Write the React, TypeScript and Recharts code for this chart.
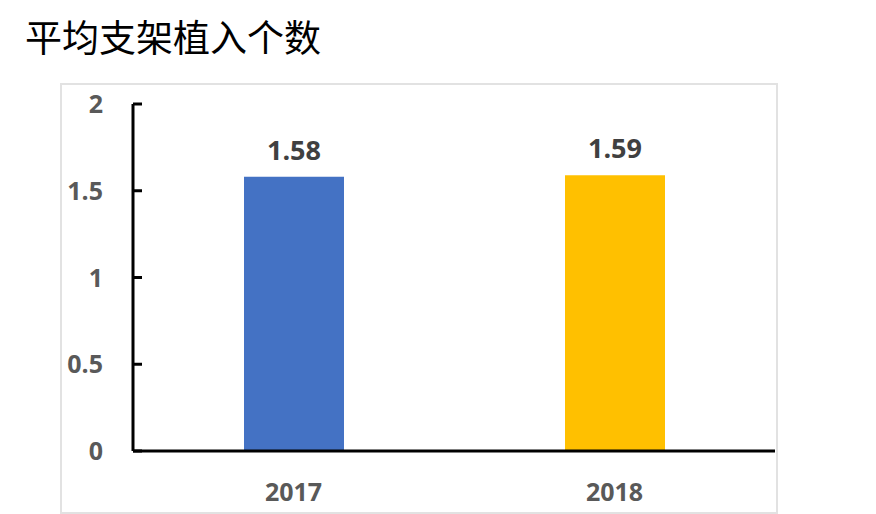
import React from "react";
import { BarChart, Bar, XAxis, YAxis, Cell, LabelList } from "recharts";

const categories = ["2017", "2018"];
const values = [1.58, 1.59];
const barColors = ["#4472C4", "#FFC000"];
const yTicks = [0, 0.5, 1, 1.5, 2];

const data = categories.map((c, i) => ({ year: c, value: values[i] }));

const FONT = "'Open Sans', 'Noto Sans', sans-serif";

const YTick = (props: any) => {
  const { x, y, payload } = props;
  return (
    <g>
      <line x1={x} x2={x + 9} y1={y} y2={y} stroke="#000" strokeWidth={3} />
      <text
        x={x - 30}
        y={y}
        dy="0.36em"
        textAnchor="end"
        fill="#595959"
        fontSize={25}
        fontWeight={700}
        fontFamily={FONT}
      >
        {payload.value}
      </text>
    </g>
  );
};

const XTick = (props: any) => {
  const { x, y, payload } = props;
  return (
    <text
      x={x}
      y={y + 41}
      dy="0.36em"
      textAnchor="middle"
      fill="#595959"
      fontSize={25}
      fontWeight={700}
      fontFamily={FONT}
    >
      {payload.value}
    </text>
  );
};

export default function App() {
  return (
    <div
      style={{
        position: "absolute",
        left: 0,
        top: 0,
        width: 876,
        height: 514,
        background: "#fff",
        overflow: "hidden",
      }}
    >
      <div
        style={{
          position: "absolute",
          left: 25,
          top: 13,
          fontSize: 37,
          lineHeight: "46px",
          fontFamily: "'Noto Sans CJK SC', sans-serif",
          color: "#000",
          whiteSpace: "nowrap",
        }}
      >
        平均支架植入个数
      </div>
      <div
        style={{
          position: "absolute",
          left: 60,
          top: 83,
          width: 714,
          height: 427,
          border: "2px solid #e2e2e2",
        }}
      />
      <div style={{ position: "absolute", left: 0, top: 0 }}>
        <BarChart
          width={876}
          height={514}
          data={data}
          margin={{ top: 104, right: 101, bottom: 33, left: 73 }}
          barCategoryGap={0}
        >
          <YAxis
            width={60}
            domain={[0, 2]}
            ticks={yTicks}
            tickSize={0}
            tickMargin={0}
            tickLine={false}
            axisLine={{ stroke: "#000", strokeWidth: 3 }}
            tick={<YTick />}
            interval={0}
          />
          <XAxis
            dataKey="year"
            height={30}
            tickSize={0}
            tickMargin={0}
            tickLine={false}
            axisLine={{ stroke: "#000", strokeWidth: 3 }}
            tick={<XTick />}
            interval={0}
          />
          <Bar dataKey="value" barSize={100} isAnimationActive={false}>
            {data.map((d, i) => (
              <Cell key={d.year} fill={barColors[i]} />
            ))}
            <LabelList
              dataKey="value"
              position="top"
              offset={17}
              fill="#404040"
              fontSize={27}
              fontWeight={700}
              fontFamily={FONT}
            />
          </Bar>
        </BarChart>
      </div>
    </div>
  );
}
